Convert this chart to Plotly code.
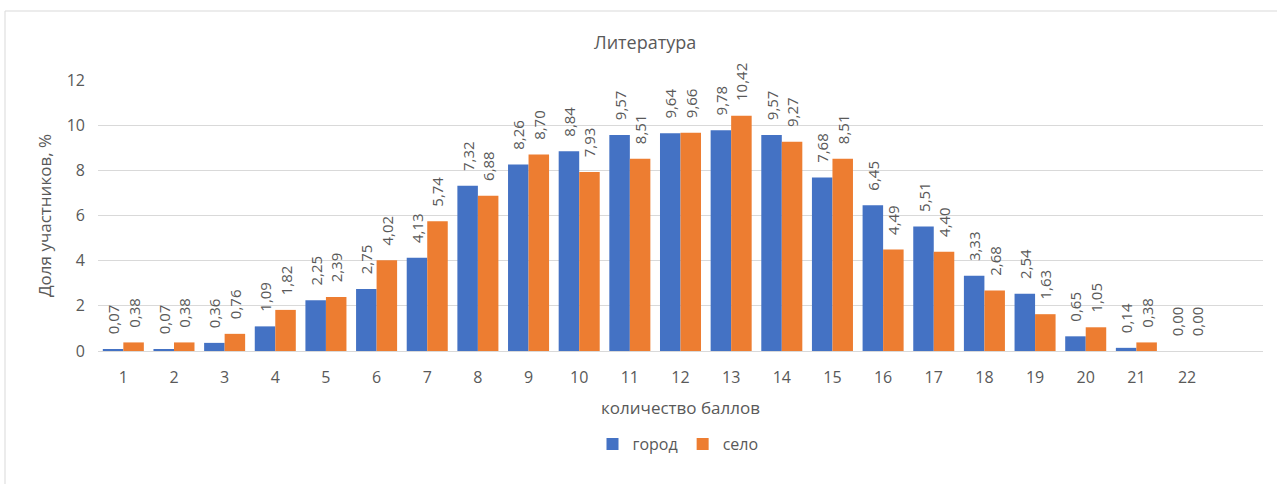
import plotly.graph_objects as go

# Scores (points) and share of participants, %
scores = list(range(1, 23))
score_labels = [str(s) for s in scores]
city = [0.07, 0.07, 0.36, 1.09, 2.25, 2.75, 4.13, 7.32, 8.26, 8.84, 9.57,
        9.64, 9.78, 9.57, 7.68, 6.45, 5.51, 3.33, 2.54, 0.65, 0.14, 0.00]
village = [0.38, 0.38, 0.76, 1.82, 2.39, 4.02, 5.74, 6.88, 8.70, 7.93, 8.51,
           9.66, 10.42, 9.27, 8.51, 4.49, 4.40, 2.68, 1.63, 1.05, 0.38, 0.00]

FONT = "Open Sans"
TEXT_GRAY = "#595959"
GRID = "#D9D9D9"

W, H = 1277, 484
ML, MR, MT, MB = 98, 14, 80, 133
PW, PH = W - ML - MR, H - MT - MB


def px_x(x):
    return (x - ML) / PW


def px_y(y):
    return (H - MB - y) / PH


pad = "\u00a0\u00a0\u00a0"

fig = go.Figure()
for name, vals, color in [("город", city, "#4472C4"), ("село", village, "#ED7D31")]:
    fig.add_trace(go.Bar(
        x=scores, y=vals, name=name,
        marker=dict(color=color, line=dict(width=0)),
        texttemplate=pad + "%{y:.2f}",
        textposition="outside", textangle=-90,
        textfont=dict(family=FONT, size=15, color=TEXT_GRAY),
        cliponaxis=False, constraintext="none",
    ))

fig.update_layout(
    width=W, height=H,
    margin=dict(l=ML, r=MR, t=MT, b=MB),
    paper_bgcolor="white", plot_bgcolor="white",
    separators=", ",
    barmode="group", bargap=0.19, bargroupgap=0,
    font=dict(family=FONT, color=TEXT_GRAY),
    showlegend=True,
    legend=dict(orientation="h", x=px_x(678), xanchor="center",
                y=px_y(444), yanchor="middle",
                font=dict(size=16, color=TEXT_GRAY), itemwidth=30),
    xaxis=dict(range=[0.5, 23.5], tickmode="array", tickvals=scores,
               ticktext=score_labels, showgrid=False, zeroline=False,
               showline=True, linecolor=GRID, linewidth=1, ticks="",
               tickfont=dict(size=16, color=TEXT_GRAY), ticklabelstandoff=12,
               title=dict(text="количество баллов", standoff=14,
                          font=dict(size=17, color=TEXT_GRAY))),
    yaxis=dict(range=[0, 12], dtick=2, showgrid=True, gridcolor=GRID,
               gridwidth=1, zeroline=False, showline=False, ticks="",
               tickfont=dict(size=16, color=TEXT_GRAY), ticklabelstandoff=12,
               title=dict(text="Доля участников, %", standoff=10,
                          font=dict(size=17, color=TEXT_GRAY))),
    annotations=[dict(text="Литература", xref="paper", yref="paper",
                      x=px_x(645), y=px_y(42), xanchor="center",
                      yanchor="middle", showarrow=False,
                      font=dict(size=18, color=TEXT_GRAY))],
    shapes=[dict(type="rect", xref="paper", yref="paper",
                 x0=px_x(5), y0=px_y(11), x1=px_x(1300), y1=px_y(520),
                 line=dict(color="#D9D9D9", width=1), layer="below")],
)

fig.write_html("out.html")
